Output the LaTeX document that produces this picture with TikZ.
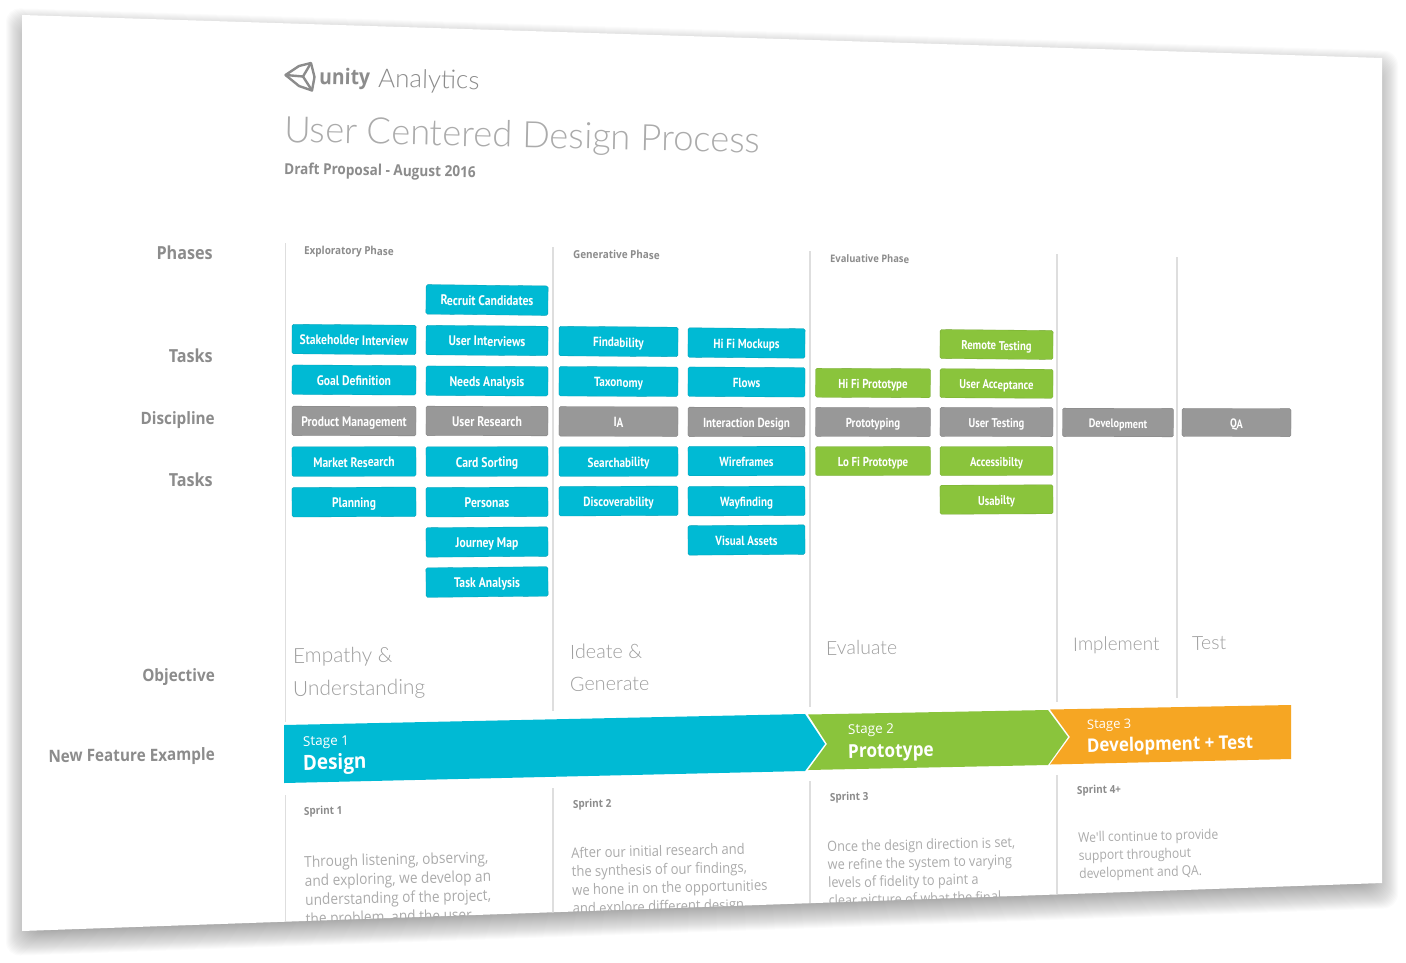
\documentclass[tikz,border=0pt]{standalone}
\usepackage{fontspec}
\setmainfont{Open Sans}
\newfontfamily\boxfont[FakeStretch=.84]{PT Sans}
\newfontfamily\labelfont[FakeStretch=.9]{Open Sans}
\newfontfamily\lightfont{Lato Light}
\usetikzlibrary{positioning}

\definecolor{taskcyan}{HTML}{00BAD4}
\definecolor{taskgreen}{HTML}{8AC43C}
\definecolor{taskgray}{HTML}{989898}
\definecolor{stageorange}{HTML}{F6A623}
\definecolor{dividergray}{HTML}{DEDEDE}
\definecolor{headgray}{HTML}{8C8C8C}
\definecolor{softgray}{HTML}{ABABAB}
\definecolor{goalgray}{HTML}{9E9E9E}

\newcommand{\boxsize}{13.75}
\newcommand{\goalfont}[1]{\lightfont\fontsize{#1}{#1}\selectfont}
\newcommand{\namefont}[1]{\labelfont\bfseries\fontsize{#1}{#1}\selectfont}
\newcommand{\parafont}[2]{\labelfont\fontsize{#1}{#2}\selectfont}

\tikzset{
	taskbox/.style={rounded corners=1.5pt,text=white,inner sep=0pt,minimum height=29.5pt,
		text height=11pt,text depth=0pt,
		font=\boxfont\bfseries\fontsize{\boxsize}{\boxsize}\selectfont},
	bluebox/.style={taskbox,fill=taskcyan,draw=taskcyan!85!black,line width=.3pt},
	greenbox/.style={taskbox,fill=taskgreen,draw=taskgreen!85!black,line width=.3pt},
	graybox/.style={taskbox,fill=taskgray,draw=taskgray!85!black,line width=.3pt},
	sidelabel/.style={anchor=east,inner sep=0pt,text=headgray,font=\namefont{17}},
	phaselabel/.style={anchor=base west,inner sep=0pt,text=headgray,font=\labelfont\bfseries\fontsize{11}{11}\selectfont},
	goallabel/.style={anchor=base west,inner sep=0pt,text=goalgray},
	stagelabel/.style={anchor=base west,inner sep=0pt,text=white,font=\fontsize{13.5}{13.5}\selectfont},
	stagename/.style={anchor=base west,inner sep=0pt,text=white},
	bodytext/.style={anchor=north west,inner sep=0pt,align=left,text=softgray,rotate=1.4},
	divider/.style={draw=dividergray,line width=1.5pt},
	logoline/.style={draw=headgray,line width=2.4pt,line join=round}
}

\begin{document}
\begin{tikzpicture}[x=1pt,y=-1pt]

	\useasboundingbox (0,0) rectangle (1406,962);

	\coordinate (tl) at (22,15);
	\coordinate (tr) at (1382,58);
	\coordinate (br) at (1382,883);
	\coordinate (bl) at (22,931);

	\foreach \e in {-10,-9,...,16}
		\fill[black,opacity=.016,rounded corners=14pt]
			([shift={(-\e,9-\e)}]tl) -- ([shift={(\e,9-\e)}]tr) -- ([shift={(\e,9+\e)}]br) -- ([shift={(-\e,9+\e)}]bl) -- cycle;

	\fill[white] (tl) -- (tr) -- (br) -- (bl) -- cycle;

	\begin{scope}
	\clip (tl) -- (tr) -- (br) -- (bl) -- cycle;

	\draw[divider] (285.5,243) -- (285.5,722);
	\draw[divider] (553,247) -- (553,711);
	\draw[divider] (810,251) -- (810,707);
	\draw[divider] (1057,254) -- (1057,702);
	\draw[divider] (1177,257) -- (1177,698);
	\draw[divider] (285.5,795) -- (285.5,930);
	\draw[divider] (553,788) -- (553,930);
	\draw[divider] (810,781) -- (810,930);
	\draw[divider] (1057,775) -- (1057,930);

	\node[bodytext,font=\parafont{15.2}{19}] (para1) at (304,855.5) {Through listening, observing,\\and exploring, we develop an\\understanding of the project,\\the problem, and the user.};
	\node[bodytext,font=\parafont{14.5}{18.5}] (para2) at (571,847) {After our initial research and\\the synthesis of our findings,\\we hone in on the opportunities\\and explore different design};
	\node[bodytext,font=\parafont{14.1}{18}] (para3) at (827,841) {Once the design direction is set,\\we refine the system to varying\\levels of fidelity to paint a\\clear picture of what the final};
	\node[bodytext,font=\parafont{13.5}{18}] (para4) at (1078,832) {We'll continue to provide\\support throughout\\development and QA.};
	\end{scope}

	\draw[logoline] (285.5,75) -- (299,66) -- (311,63) -- (314.5,77) -- (312,90.5) -- (299,86) -- cycle;
	\draw[logoline] (285.5,75) -- (303,76.5) -- (311,63);
	\draw[logoline] (303,76.5) -- (312,90.5);
	\node[anchor=base west,inner sep=0pt,text=headgray,font=\namefont{21.5},rotate=-1.3] (unity) at (319,84) {unity};
	\node[anchor=base west,inner sep=0pt,text=headgray,font=\goalfont{26},rotate=-1.3] (analytics) at (378,87) {Analytics};
	\node[anchor=base west,inner sep=0pt,text=softgray,font=\goalfont{36.4},rotate=-1.3] (title) at (284,142) {User Centered Design Process};
	\node[phaselabel,rotate=-1,font=\namefont{15.1}] (draft) at (284,174) {Draft Proposal - August 2016};

	\node[sidelabel,font=\namefont{18}] (phases) at (213,253) {Phases};
	\node[sidelabel,font=\namefont{18}] (tasksup) at (213,356) {Tasks};
	\node[sidelabel] (discipline) at (215,420) {Discipline};
	\node[sidelabel,font=\namefont{18}] (tasksdown) at (213,479.5) {Tasks};
	\node[sidelabel] (objective) at (215,677) {Objective};
	\node[sidelabel,rotate=.6] (example) at (215,756) {New Feature Example};

	\node[phaselabel,rotate=-.8] (exploratory) at (304,254) {Exploratory Phase};
	\node[phaselabel,rotate=-.8] (generative) at (573,258) {Generative Phase};
	\node[phaselabel,rotate=-.8,font=\namefont{10.4}] (evaluative) at (830,262) {Evaluative Phase};

	\node[bluebox,minimum width=124pt,rotate=-.46] (stakeholder) at (354,339.5) {Stakeholder Interview};
	\node[bluebox,minimum width=124pt,rotate=-.29] (goal) at (354,380) {Goal Definition};
	\node[graybox,minimum width=124pt,rotate=-.12] (product) at (354,421) {Product Management};
	\node[bluebox,minimum width=124pt,rotate=.05] (market) at (354,461.5) {Market Research};
	\node[bluebox,minimum width=124pt,rotate=.23] (planning) at (354,502) {Planning};

	\renewcommand{\boxsize}{13.9}
	\node[bluebox,minimum width=122pt,rotate=-.63] (recruit) at (487,300) {Recruit Candidates};
	\node[bluebox,minimum width=122pt,rotate=-.46] (interviews) at (487,340.5) {User Interviews};
	\node[bluebox,minimum width=122pt,rotate=-.29] (needs) at (487,381) {Needs Analysis};
	\node[graybox,minimum width=122pt,rotate=-.12] (research) at (487,421) {User Research};
	\node[bluebox,minimum width=122pt,rotate=.05] (card) at (487,461.5) {Card Sorting};
	\node[bluebox,minimum width=122pt,rotate=.23] (personas) at (487,502) {Personas};
	\node[bluebox,minimum width=122pt,rotate=.4] (journey) at (487,542) {Journey Map};
	\node[bluebox,minimum width=122pt,rotate=.57] (analysis) at (487,582) {Task Analysis};

	\renewcommand{\boxsize}{13.3}
	\node[bluebox,minimum width=119pt,rotate=-.46] (findability) at (618.5,341.5) {Findability};
	\node[bluebox,minimum width=119pt,rotate=-.29] (taxonomy) at (618.5,381.5) {Taxonomy};
	\node[graybox,minimum width=119pt,rotate=-.12] (ia) at (618.5,421.5) {IA};
	\node[bluebox,minimum width=119pt,rotate=.05] (searchability) at (618.5,461.5) {Searchability};
	\node[bluebox,minimum width=119pt,rotate=.23] (discoverability) at (618.5,501) {Discoverability};

	\renewcommand{\boxsize}{13.2}
	\node[bluebox,minimum width=117pt,rotate=-.46] (mockups) at (746.5,343) {Hi Fi Mockups};
	\node[bluebox,minimum width=117pt,rotate=-.29] (flows) at (746.5,382) {Flows};
	\node[graybox,minimum width=117pt,rotate=-.12] (interaction) at (746.5,422) {Interaction Design};
	\node[bluebox,minimum width=117pt,rotate=.05] (wireframes) at (746.5,461) {Wireframes};
	\node[bluebox,minimum width=117pt,rotate=.23] (wayfinding) at (746.5,501) {Wayfinding};
	\node[bluebox,minimum width=117pt,rotate=.4] (assets) at (746.5,540) {Visual Assets};

	\renewcommand{\boxsize}{12.95}
	\node[greenbox,minimum width=115pt,minimum height=29pt,rotate=-.29] (hifi) at (873,383) {Hi Fi Prototype};
	\node[graybox,minimum width=115pt,minimum height=29pt,rotate=-.12] (prototyping) at (873,422) {Prototyping};
	\node[greenbox,minimum width=115pt,minimum height=29pt,rotate=.05] (lofi) at (873,461) {Lo Fi Prototype};

	\renewcommand{\boxsize}{12.7}
	\node[greenbox,minimum width=113pt,minimum height=29pt,rotate=-.46] (remote) at (996.5,344.5) {Remote Testing};
	\node[greenbox,minimum width=113pt,minimum height=29pt,rotate=-.29] (acceptance) at (996.5,383.5) {User Acceptance};
	\node[graybox,minimum width=113pt,minimum height=29pt,rotate=-.12] (testing) at (996.5,422) {User Testing};
	\node[greenbox,minimum width=113pt,minimum height=29pt,rotate=.05] (accessibility) at (996.5,461) {Accessibilty};
	\node[greenbox,minimum width=113pt,minimum height=29pt,rotate=.23] (usability) at (996.5,499.5) {Usabilty};

	\renewcommand{\boxsize}{12.2}
	\node[graybox,minimum width=111pt,minimum height=28.5pt,rotate=-.12] (development) at (1118,422.5) {Development};
	\node[graybox,minimum width=109pt,minimum height=28pt,rotate=-.12] (qa) at (1236.5,422.5) {QA};

	\node[goallabel,font=\goalfont{20.9},rotate=.5] (empathy) at (293,663) {Empathy \&};
	\node[goallabel,font=\goalfont{20.9},rotate=.7] (understanding) at (293,696) {Understanding};
	\node[goallabel,font=\goalfont{19.8},rotate=.5] (ideate) at (570,659) {Ideate \&};
	\node[goallabel,font=\goalfont{19.8},rotate=.7] (generate) at (570,691) {Generate};
	\node[goallabel,font=\goalfont{19.5},rotate=.5] (evaluate) at (826,655) {Evaluate};
	\node[goallabel,font=\goalfont{18.9},rotate=.5] (implement) at (1073,651) {Implement};
	\node[goallabel,font=\goalfont{19.5},rotate=.5] (test) at (1192,650) {Test};

	\fill[taskcyan] (284,725) -- (805,714) -- (825,744) -- (805,771) -- (284,783) -- cycle;
	\fill[taskgreen] (808,714.5) -- (1048,710) -- (1068,737) -- (1048,765) -- (808,770) -- (827,744) -- cycle;
	\fill[stageorange] (1050,709.5) -- (1291,705) -- (1291,759) -- (1050,764.5) -- (1070,737) -- cycle;

	\node[stagelabel,rotate=1.2] (stage1) at (303,746) {Stage 1};
	\node[stagename,font=\namefont{21},rotate=1.2] (design) at (303,770) {Design};
	\node[stagelabel,rotate=1.2] (stage2) at (848,734) {Stage 2};
	\node[stagename,font=\namefont{19.2},rotate=1.2] (prototype) at (848,758) {Prototype};
	\node[stagelabel,font=\fontsize{13}{13}\selectfont,rotate=1.2] (stage3) at (1087,729) {Stage 3};
	\node[stagename,font=\namefont{18.8},rotate=1.2] (devtest) at (1087,752) {Development + Test};

	\node[phaselabel,rotate=1.5] (sprint1) at (304,815) {Sprint 1};
	\node[phaselabel,rotate=1.5] (sprint2) at (573,808) {Sprint 2};
	\node[phaselabel,rotate=1.5] (sprint3) at (830,801) {Sprint 3};
	\node[phaselabel,rotate=1.5] (sprint4) at (1077,794) {Sprint 4+};

\end{tikzpicture}
\end{document}
